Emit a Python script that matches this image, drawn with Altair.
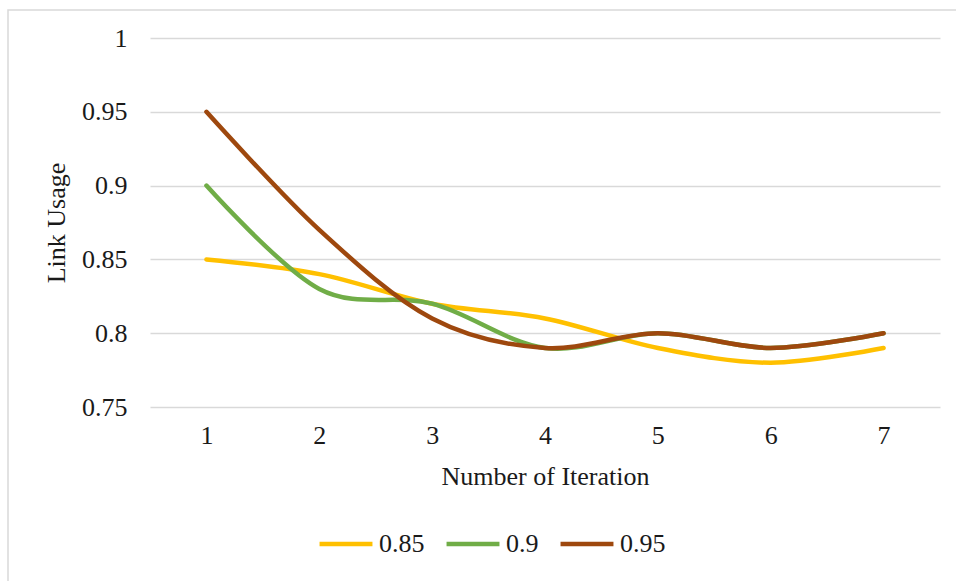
import altair as alt
import pandas as pd

# Link usage per iteration for three threshold settings
iterations = [1, 2, 3, 4, 5, 6, 7]
series_names = ["0.85", "0.9", "0.95"]
usage_085 = [0.85, 0.84, 0.82, 0.81, 0.79, 0.78, 0.79]
usage_090 = [0.90, 0.83, 0.82, 0.79, 0.80, 0.79, 0.80]
usage_095 = [0.95, 0.87, 0.81, 0.79, 0.80, 0.79, 0.80]
colors = ["#FFC000", "#70AD47", "#9E480E"]

rows = []
for name, vals in zip(series_names, [usage_085, usage_090, usage_095]):
    for it, v in zip(iterations, vals):
        rows.append({"Iteration": str(it), "Usage": v, "Series": name})
df = pd.DataFrame(rows)

FONT = "Liberation Serif"
FS = 26

lines = alt.Chart(df).mark_line(
    interpolate="cardinal", tension=0, strokeWidth=4.5, strokeCap="round"
).encode(
    x=alt.X("Iteration:O", sort=[str(i) for i in iterations],
            scale=alt.Scale(paddingOuter=0.5),
            axis=alt.Axis(title="Number of Iteration", labelAngle=0, domain=False,
                          ticks=False, labelPadding=15, titlePadding=15)),
    y=alt.Y("Usage:Q", scale=alt.Scale(domain=[0.75, 1.0], nice=False, zero=False),
            axis=alt.Axis(title="Link Usage", values=[0.75, 0.8, 0.85, 0.9, 0.95, 1.0],
                          format="~g", domain=False, ticks=False, labelPadding=23,
                          titlePadding=12, grid=True)),
    color=alt.Color("Series:N", scale=alt.Scale(domain=series_names, range=colors),
                    legend=alt.Legend(title=None, orient="none", direction="horizontal",
                                      legendX=167, legendY=477, symbolType="stroke",
                                      symbolSize=2800, symbolStrokeWidth=4.5,
                                      labelOffset=4, columnPadding=12)),
    order=alt.Order("Iteration:O"),
)

frame = alt.Chart(pd.DataFrame({"k": [0]})).mark_rect(
    fill=None, stroke="#d9d9d9", strokeWidth=1.5
).encode(x=alt.value(-142), x2=alt.value(850), y=alt.value(-28), y2=alt.value(600))

chart = alt.layer(frame, lines).properties(
    width=790, height=369,
    autosize=alt.AutoSizeParams(type="none"),
    padding={"left": 150, "top": 38, "right": 16, "bottom": 174},
).configure_view(stroke=None).configure_axis(
    labelFont=FONT, titleFont=FONT, labelFontSize=FS, titleFontSize=FS,
    labelColor="#1a1a1a", titleColor="#1a1a1a", titleFontWeight="normal",
    gridColor="#d9d9d9", gridWidth=1.3,
).configure_legend(
    labelFont=FONT, labelFontSize=FS, labelColor="#1a1a1a"
)

chart.save("out.html", embed_options={"renderer": "svg", "actions": False})
